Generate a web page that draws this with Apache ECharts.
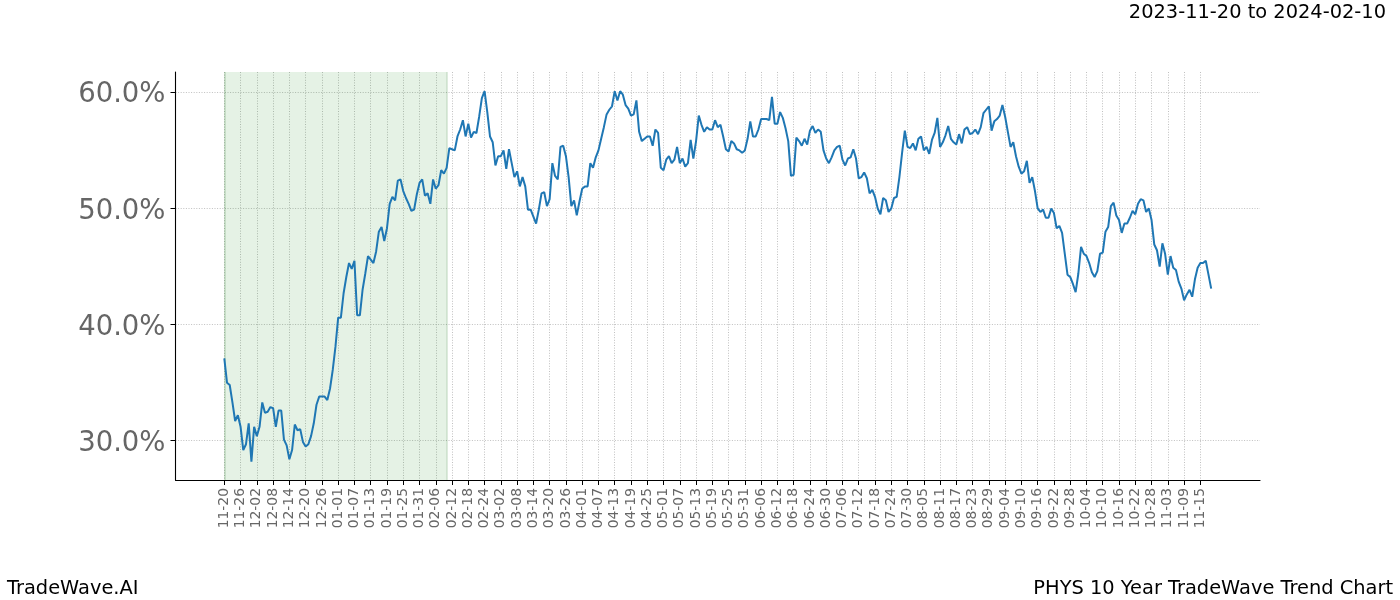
<!DOCTYPE html>
<html><head><meta charset="utf-8">
<script src="https://cdn.jsdelivr.net/npm/echarts/dist/echarts.min.js"></script>
<style>html,body{margin:0;padding:0;background:#fff}#c{width:1400px;height:600px}</style>
</head><body><div id="c"></div>
<script>
const rangeLabel = '2023-11-20 to 2024-02-10';
const brandLabel = 'TradeWave.AI';
const chartLabel = 'PHYS 10 Year TradeWave Trend Chart';

const tickLabels = ['11-20','11-26','12-02','12-08','12-14','12-20','12-26','01-01','01-07','01-13','01-19','01-25','01-31','02-06','02-12','02-18','02-24','03-02','03-08','03-14','03-20','03-26','04-01','04-07','04-13','04-19','04-25','05-01','05-07','05-13','05-19','05-25','05-31','06-06','06-12','06-18','06-24','06-30','07-06','07-12','07-18','07-24','07-30','08-05','08-11','08-17','08-23','08-29','09-04','09-10','09-16','09-22','09-28','10-04','10-10','10-16','10-22','10-28','11-03','11-09','11-15'];
const tickStep = 6;

const yTicks = [30, 40, 50, 60];

// Trend value (%) per data point
const values = [
37.1,35.0,34.8,33.3,31.7,32.2,31.2,29.2,29.7,31.5,
28.2,31.2,30.4,31.2,33.3,32.4,32.5,32.9,32.8,31.2,
32.6,32.6,30.1,29.6,28.4,29.2,31.4,30.9,31.0,29.9,
29.5,29.7,30.4,31.5,33.1,33.8,33.8,33.8,33.5,34.5,
36.1,38.1,40.6,40.6,42.7,44.1,45.3,44.8,45.5,40.8,
40.8,43.0,44.4,45.9,45.6,45.3,46.3,48.0,48.4,47.2,
48.3,50.4,51.0,50.7,52.4,52.5,51.5,50.9,50.4,49.8,
49.9,51.2,52.2,52.5,51.1,51.3,50.4,52.5,51.7,52.0,
53.3,53.0,53.5,55.2,55.1,55.0,56.2,56.8,57.6,56.2,
57.3,56.1,56.6,56.5,57.9,59.5,60.1,58.3,56.2,55.7,
53.7,54.5,54.5,55.0,53.4,55.1,53.9,52.7,53.2,51.9,
52.7,51.9,49.9,49.9,49.3,48.7,49.9,51.3,51.4,50.2,
50.8,53.9,52.8,52.5,55.3,55.4,54.5,52.7,50.2,50.7,
49.4,50.6,51.7,51.9,51.9,53.9,53.5,54.4,55.0,56.0,
57.0,58.1,58.5,58.8,60.1,59.3,60.1,59.8,58.9,58.6,
58.0,58.1,59.3,56.6,55.8,56.0,56.2,56.2,55.4,56.8,
56.5,53.5,53.3,54.2,54.5,53.9,54.2,55.3,53.9,54.3,
53.6,53.9,55.9,54.3,55.8,58.0,57.2,56.6,57.0,56.8,
56.8,57.6,57.0,57.2,56.2,55.1,54.9,55.8,55.6,55.1,
55.0,54.8,55.0,56.0,57.5,56.2,56.2,56.8,57.7,57.7,
57.7,57.6,59.6,57.3,57.3,58.3,57.8,56.9,55.8,52.8,
52.9,56.1,55.8,55.4,56.0,55.5,56.7,57.1,56.5,56.8,
56.6,55.0,54.3,53.9,54.4,55.0,55.3,55.4,54.2,53.7,
54.3,54.4,55.1,54.3,52.6,52.7,53.1,52.6,51.3,51.6,
51.0,50.0,49.5,50.9,50.7,49.7,50.0,50.9,51.0,52.7,
54.8,56.7,55.3,55.2,55.6,55.0,56.0,56.2,55.0,55.3,
54.7,55.9,56.5,57.8,55.3,55.7,56.3,57.1,56.0,55.7,
55.5,56.4,55.6,56.8,57.0,56.4,56.5,56.8,56.4,57.0,
58.2,58.5,58.8,56.7,57.5,57.7,58.0,58.9,57.9,56.6,
55.3,55.7,54.5,53.6,53.0,53.2,54.1,52.2,52.7,51.5,
50.0,49.7,49.9,49.2,49.2,50.0,49.6,48.3,48.5,47.9,
46.1,44.3,44.1,43.5,42.8,44.4,46.7,46.1,45.9,45.3,
44.5,44.1,44.6,46.1,46.2,48.0,48.4,50.2,50.5,49.4,
49.0,47.9,48.7,48.7,49.2,49.8,49.5,50.4,50.8,50.7,
49.7,50.0,49.0,46.9,46.4,45.0,47.0,46.1,44.3,45.9,
44.9,44.7,43.7,43.1,42.1,42.6,43.0,42.4,43.9,44.9,
45.3,45.3,45.5,44.3,43.1
];

// highlighted window (data-point index range)
const shadeStart = 0;
const shadeEnd = 82;

const tickPositions = tickLabels.map((_, i) => i * tickStep);
const seriesData = values.map((v, i) => [i, v]);

const FONT = 'DejaVu Sans';
const gridLine = { color: '#b0b0b0', width: 0.8, type: [1, 1.6] };

const chart = echarts.init(document.getElementById('c'), null, { renderer: 'canvas' });
chart.setOption({
  animation: false,
  backgroundColor: '#fff',
  title: [
    { text: rangeLabel, right: 9, top: -2, textStyle: { fontFamily: FONT, fontSize: 19.4, fontWeight: 'normal', color: '#000' } },
    { text: brandLabel, left: 2, top: 574, textStyle: { fontFamily: FONT, fontSize: 19.4, fontWeight: 'normal', color: '#000' } },
    { text: chartLabel, right: 2, top: 574, textStyle: { fontFamily: FONT, fontSize: 19.4, fontWeight: 'normal', color: '#000' } }
  ],
  grid: { left: 175.5, right: 140, top: 72, bottom: 120, containLabel: false },
  xAxis: {
    type: 'value', min: -18, max: 382,
    axisLine: { show: true, onZero: false, lineStyle: { color: '#000', width: 1.1 } },
    axisTick: { show: true, length: 5, customValues: tickPositions, lineStyle: { color: '#000', width: 1 } },
    axisLabel: {
      customValues: tickPositions, rotate: 90, margin: 8,
      formatter: v => tickLabels[Math.round(v / tickStep)] || '',
      fontFamily: FONT, fontSize: 13.9, color: '#666'
    },
    splitLine: { show: true, lineStyle: gridLine }
  },
  yAxis: {
    type: 'value', min: 26.62, max: 61.75,
    axisLine: { show: true, onZero: false, lineStyle: { color: '#000', width: 1.1 } },
    axisTick: { show: true, length: 5, customValues: yTicks, lineStyle: { color: '#000', width: 1 } },
    axisLabel: {
      customValues: yTicks, margin: 10,
      formatter: v => '{v|' + v.toFixed(1) + '%}',
      rich: { v: { fontFamily: FONT, fontSize: 27.5, color: '#666', padding: [6, 0, 0, 0] } },
      fontFamily: FONT, fontSize: 27.5, color: '#666'
    },
    splitLine: { show: true, lineStyle: gridLine }
  },
  series: [{
    type: 'line',
    data: seriesData,
    showSymbol: false,
    lineStyle: { color: '#1f77b4', width: 2 },
    itemStyle: { color: '#1f77b4' },
    z: 5,
    markArea: {
      silent: true,
      itemStyle: { color: 'rgba(0,128,0,0.1)' },
      data: [[{ xAxis: shadeStart }, { xAxis: shadeEnd }]]
    },
    markLine: {
      silent: true, symbol: 'none', label: { show: false },
      lineStyle: { color: 'rgba(0,100,0,0.18)', width: 1.5, type: 'solid' },
      data: [{ xAxis: shadeStart }, { xAxis: shadeEnd }]
    }
  }]
});
</script>
</body></html>
